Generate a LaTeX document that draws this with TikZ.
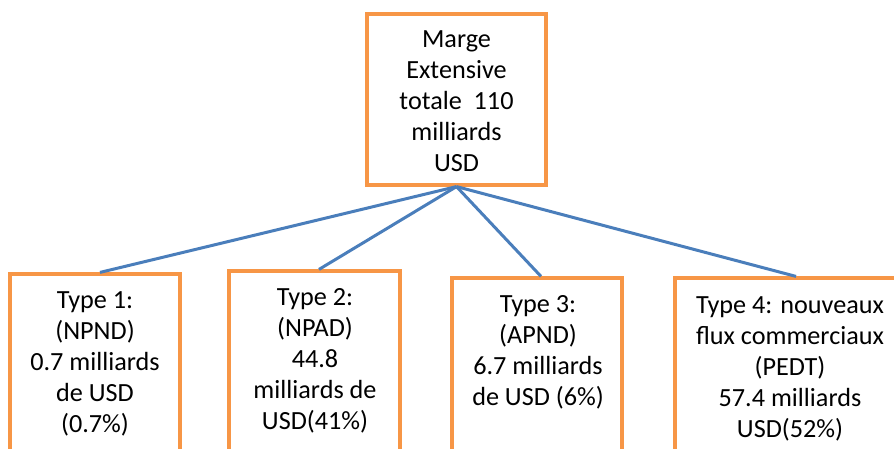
\documentclass[tikz,border=0pt]{standalone}
\usepackage{fontspec}
\setmainfont{Carlito}
\definecolor{boxorange}{HTML}{F79646}
\definecolor{linkblue}{HTML}{4A7EBB}
\begin{document}
\begin{tikzpicture}[x=1pt,y=-1pt,
  box/.style={draw=boxorange, line width=3.2pt, inner sep=0pt},
  lbl/.style={align=center, font=\fontsize{26.2}{31}\selectfont, inner sep=0pt},
  link/.style={draw=linkblue, line width=3pt}]
\useasboundingbox (0,0) rectangle (894,448);
\clip (0,0) rectangle (894,448);
% boxes
\node[box, minimum width=179, minimum height=171] (top) at (456.5,99.5) {};
\node[box, minimum width=170, minimum height=200] (t1) at (95,374) {};
\node[box, minimum width=171, minimum height=200] (t2) at (314.5,371) {};
\node[box, minimum width=170, minimum height=200] (t3) at (537,378) {};
\node[box, minimum width=242, minimum height=200] (t4) at (796,378) {};
% texts
\node[lbl] (toptxt) at (456.5,101) {Marge\\Extensive\\totale\ \ 110\\milliards\\USD};
\node[lbl] (t1txt) at (95,364) {Type 1:\\(NPND)\\0.7 milliards\\de USD\\(0.7\%)};
\node[lbl] (t2txt) at (315,361) {Type 2:\\(NPAD)\\44.8\\milliards de\\USD(41\%)};
\node[lbl] (t3txt) at (538,352) {Type 3:\\(APND)\\6.7 milliards\\de USD (6\%)};
\node[lbl] (t4txt) at (790,369) {Type 4: nouveaux\\flux commerciaux\\(PEDT)\\57.4 milliards\\USD(52\%)};
% connectors
\draw[link] (top.south) -- ([xshift=5pt]t1.north);
\draw[link] (top.south) -- ([xshift=4.5pt]t2.north);
\draw[link] (top.south) -- ([xshift=4pt]t3.north);
\draw[link] (top.south) -- (t4.north);
\end{tikzpicture}
\end{document}
